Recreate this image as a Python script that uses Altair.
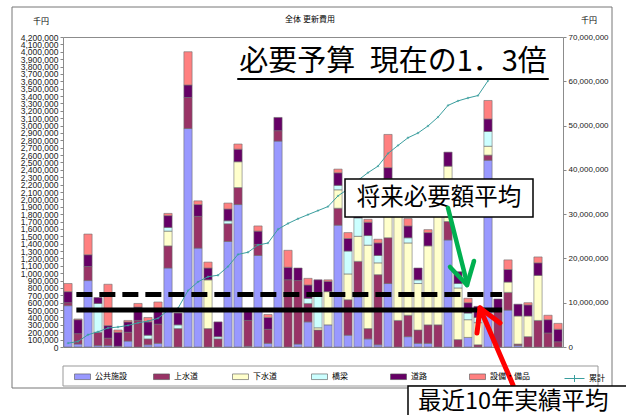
import altair as alt
import pandas as pd

years = [str(y) for y in range(2011, 2061)]
categories = ["公共施設", "上水道", "下水道", "橋梁", "道路", "設備・備品"]
colors = ["#9999FF", "#993366", "#FFFFCC", "#CCFFFF", "#660066", "#FF8080"]

public = [560000, 40000, 900000, 20000, 20000, 10000, 80000, 0, 30000, 50000,
          1070000, 0, 2960000, 1340000, 0, 0, 1430000, 1930000, 10000, 1240000,
          50000, 2790000, 0, 40000, 340000, 0, 300000, 1650000, 160000, 680000,
          110000, 30000, 860000, 0, 140000, 50000, 50000, 0, 1450000, 0,
          130000, 0, 2530000, 0, 500000, 20000, 0, 0, 0, 0]
water = [40000, 140000, 190000, 180000, 100000, 0, 120000, 360000, 80000, 260000,
         300000, 250000, 420000, 430000, 250000, 110000, 240000, 230000, 350000, 150000,
         190000, 140000, 910000, 860000, 250000, 230000, 0, 230000, 480000, 480000,
         140000, 950000, 620000, 360000, 290000, 180000, 250000, 300000, 250000, 100000,
         0, 30000, 70000, 500000, 240000, 20000, 140000, 360000, 190000, 70000]
sewer = [0, 0, 0, 0, 0, 0, 0, 0, 0, 0,
         200000, 0, 0, 0, 660000, 0, 0, 350000, 0, 0,
         0, 0, 0, 0, 0, 30000, 450000, 250000, 350000, 340000,
         1130000, 160000, 800000, 1440000, 980000, 630000, 1070000, 1700000, 750000, 700000,
         240000, 300000, 120000, 0, 140000, 380000, 280000, 610000, 0, 0]
bridge = [0, 0, 0, 390000, 0, 0, 0, 0, 50000, 0,
          50000, 50000, 0, 0, 0, 30000, 40000, 0, 0, 0,
          0, 0, 0, 0, 70000, 450000, 0, 60000, 310000, 250000,
          130000, 100000, 0, 0, 70000, 50000, 0, 0, 0, 60000,
          90000, 70000, 200000, 0, 0, 0, 0, 0, 0, 0]
road = [150000, 190000, 160000, 80000, 170000, 190000, 140000, 180000, 180000, 180000,
        160000, 160000, 170000, 160000, 160000, 200000, 160000, 170000, 120000, 180000,
        160000, 180000, 170000, 170000, 180000, 200000, 140000, 170000, 170000, 170000,
        180000, 170000, 150000, 0, 160000, 160000, 180000, 0, 190000, 160000,
        140000, 150000, 170000, 150000, 170000, 160000, 150000, 170000, 180000, 170000]
equip = [110000, 10000, 280000, 0, 560000, 30000, 20000, 50000, 60000, 120000,
         30000, 0, 450000, 50000, 80000, 0, 80000, 70000, 0, 70000,
         40000, 0, 230000, 0, 90000, 0, 20000, 50000, 80000, 50000,
         40000, 50000, 450000, 0, 100000, 0, 40000, 0, 0, 0,
         60000, 0, 250000, 0, 130000, 0, 30000, 80000, 60000, 80000]

cumulative = [860000, 1240000, 2770000, 3440000, 4290000, 4510000, 4870000, 5460000, 5860000, 6470000,
              8280000, 8740000, 12740000, 14720000, 15870000, 16210000, 18160000, 20910000, 21390000, 23030000,
              23470000, 26580000, 27890000, 28960000, 29890000, 30800000, 31710000, 34120000, 35670000, 37640000,
              39370000, 40830000, 43710000, 45510000, 47250000, 48320000, 49910000, 51910000, 54550000, 55570000,
              56230000, 56780000, 60120000]

ref_names = ["将来必要額平均", "最近10年実績平均"]
ref_values = [710000, 500000]
ref_start = "2012"
ref_end = "2054"

left_ticks = list(range(0, 4200001, 100000))
right_ticks = list(range(0, 70000001, 10000000))

series = [public, water, sewer, bridge, road, equip]
rows = []
for k, (cat, vals) in enumerate(zip(categories, series)):
    for y, v in zip(years, vals):
        if v > 0:
            rows.append({"year": y, "cat": cat, "value": v, "k": k})
df = pd.DataFrame(rows)
cum_df = pd.DataFrame({"year": years[:len(cumulative)], "cum": cumulative, "s": "累計"})

JP = "Noto Sans CJK JP"
NUM = "Liberation Sans"
xscale = alt.Scale(domain=years, paddingInner=0.18, paddingOuter=0.09)

bars = alt.Chart(df).mark_bar(stroke="#6e6e6e", strokeWidth=0.6).encode(
    x=alt.X("year:N", scale=xscale, sort=years,
            axis=alt.Axis(title=None, labelAngle=270, labelFontSize=4.5, labelPadding=2,
                          tickSize=2, domain=False, labelColor="#333", labelFont=NUM)),
    y=alt.Y("value:Q", stack="zero", scale=alt.Scale(domain=[0, 4200000], nice=False),
            axis=alt.Axis(title=None, orient="left", values=left_ticks, format=",d",
                          labelFontSize=8.5, labelOverlap=False, labelFlush=False,
                          tickSize=3, grid=False, domain=False, labelFont=NUM,
                          labelColor="#222", labelPadding=2)),
    color=alt.Color("cat:N", scale=alt.Scale(domain=categories, range=colors),
                    legend=alt.Legend(title=None, orient="none", legendX=11, legendY=331,
                                      direction="horizontal", columns=6,
                                      symbolType="M-1,-0.35H1V0.35H-1Z", symbolSize=256,
                                      symbolStrokeColor="#555", symbolStrokeWidth=0.6,
                                      labelFont=JP, labelFontSize=8, labelOffset=4,
                                      columnPadding=17, gridAlign="all", padding=0,
                                      labelLimit=0)),
    order=alt.Order("k:Q"),
)

line = alt.Chart(cum_df).mark_line(strokeWidth=1).encode(
    x=alt.X("year:N", scale=xscale, sort=years, axis=None),
    y=alt.Y("cum:Q", scale=alt.Scale(domain=[0, 70000000], nice=False),
            axis=alt.Axis(title=None, orient="right", values=right_ticks, format=",d",
                          labelFontSize=8, tickSize=3, grid=False, domain=False,
                          labelFont=NUM, labelColor="#222", labelPadding=2)),
    stroke=alt.Stroke("s:N", scale=alt.Scale(domain=["累計"], range=["#3A9E9E"]),
                      legend=alt.Legend(title=None, orient="none", legendX=501, legendY=331,
                                        symbolType="M-1,0H1M0,-0.35V0.35", symbolSize=400,
                                        symbolStrokeWidth=1, labelFont=JP, labelFontSize=8,
                                        labelOffset=4, padding=0)),
)
points = alt.Chart(cum_df).mark_point(filled=True, size=8, shape="diamond", color="#3A9E9E").encode(
    x=alt.X("year:N", scale=xscale, sort=years, axis=None),
    y=alt.Y("cum:Q", scale=alt.Scale(domain=[0, 70000000], nice=False), axis=None),
)

ref_df = pd.DataFrame({"name": ref_names, "v": ref_values, "start": ref_start, "end": ref_end})
ref_dashed = alt.Chart(ref_df.iloc[[0]]).mark_rule(strokeWidth=5, strokeDash=[16, 7], color="black", strokeCap="butt").encode(
    x=alt.X("start:N", scale=xscale, sort=years, bandPosition=0.3, axis=None),
    x2=alt.X2("end:N", bandPosition=1),
    y=alt.Y("v:Q", scale=alt.Scale(domain=[0, 4200000], nice=False), axis=None),
)
ref_solid = alt.Chart(ref_df.iloc[[1]]).mark_rule(strokeWidth=5, color="black", strokeCap="butt").encode(
    x=alt.X("start:N", scale=xscale, sort=years, bandPosition=0.3, axis=None),
    x2=alt.X2("end:N", bandPosition=1),
    y=alt.Y("v:Q", scale=alt.Scale(domain=[0, 4200000], nice=False), axis=None),
)

one = pd.DataFrame({"t": [""]})


def rect(x1, y1, x2, y2, **kw):
    return alt.Chart(one).mark_rect(**kw).encode(
        x=alt.value(x1), x2=alt.value(x2), y=alt.value(y1), y2=alt.value(y2))


def seg(x1, y1, x2, y2, color, w):
    return alt.Chart(one).mark_rule(color=color, strokeWidth=w, strokeCap="round").encode(
        x=alt.value(x1), x2=alt.value(x2), y=alt.value(y1), y2=alt.value(y2))


def label(txt, x, y, size, font=JP, align="center", **kw):
    return alt.Chart(pd.DataFrame({"t": [txt]})).mark_text(
        fontSize=size, font=font, align=align, baseline="middle", color="black", **kw
    ).encode(text="t:N", x=alt.value(x), y=alt.value(y))


frame = rect(-51, -30, 549, 351, fill="white", fillOpacity=0, stroke="#777", strokeWidth=1)
legend_box = rect(0, 329, 535, 349, fill="white", fillOpacity=0, stroke="#999", strokeWidth=1)

future_box = rect(282, 142, 470, 180, fill="white", stroke="black", strokeWidth=1.5)
future_txt = label(ref_names[0], 376, 161, 23.5)
recent_box = rect(345, 349, 580, 395, fill="white", stroke="black", strokeWidth=1.5)
recent_txt = label(ref_names[1], 355, 365, 23.5, align="left")

green = "#00B050"
red = "#FF0000"
arrows = [
    seg(385, 171, 404, 246, green, 4.5),
    seg(404, 248, 411, 224, green, 4.5),
    seg(404, 248, 387, 230, green, 4.5),
    seg(419, 276, 450, 348, red, 5),
    seg(417, 271, 414, 296, red, 5),
    seg(417, 271, 437, 286, red, 5),
]

big_title = label("必要予算\u2002現在の1．3倍", 330, 25, 29)
underline = seg(175, 42, 485, 42, "black", 2)
small_title = label("全体  更新費用", 247, -17, 8)
unit_left = label("千円", -22, -15, 8)
unit_right = label("千円", 526, -16, 8)

chart = alt.layer(
    frame, legend_box, bars, line, points, ref_dashed, ref_solid,
    future_box, future_txt, *arrows, recent_box, recent_txt,
    big_title, underline, small_title, unit_left, unit_right,
).resolve_scale(
    y="independent"
).properties(
    width=500, height=310,
    autosize=alt.AutoSizeParams(type="none"),
    padding={"left": 63, "top": 37, "right": 63, "bottom": 68},
    background="white",
).configure_view(stroke="#8c8c8c", strokeWidth=1)

chart.save("out.html", embed_options={"renderer": "svg", "actions": False})
